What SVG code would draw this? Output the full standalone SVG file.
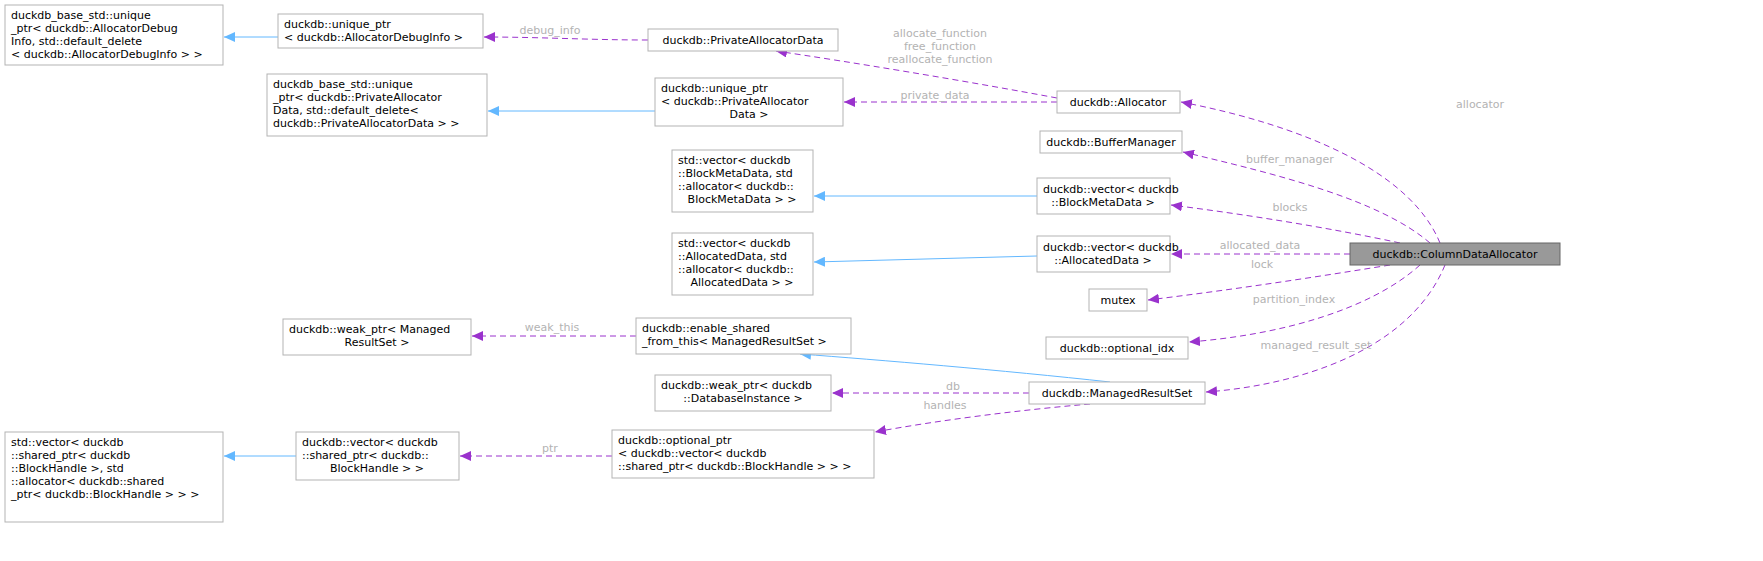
<svg xmlns="http://www.w3.org/2000/svg" width="1763" height="561" viewBox="0 0 1763 561">
<style>
text{font-family:"DejaVu Sans","Liberation Sans",sans-serif;font-size:11px;fill:#000}
.n rect{fill:#fff;stroke:#b3b3b3;stroke-width:1}
.lbl{fill:#b3b3b3;text-anchor:middle}
.c{text-anchor:middle}
.d{fill:none;stroke:#9a32cd;stroke-dasharray:6,4;stroke-width:1}
.b{fill:none;stroke:#63b8ff;stroke-width:1}
</style>
<defs>
<marker id="ap" markerWidth="12" markerHeight="10" refX="11" refY="5" orient="auto" markerUnits="userSpaceOnUse"><path d="M0,0L11,5L0,10z" fill="#9a32cd"/></marker>
<marker id="ab" markerWidth="12" markerHeight="10" refX="11" refY="5" orient="auto" markerUnits="userSpaceOnUse"><path d="M0,0L11,5L0,10z" fill="#63b8ff"/></marker>
</defs>
<rect width="1763" height="561" fill="#fff"/>
<g id="connectors">
<path class="b" marker-end="url(#ab)" d="M278,37L224,37"/>
<path class="d" marker-end="url(#ap)" d="M648,40C590,40 540,37 484,37"/>
<text class="lbl" x="550" y="34">debug_info</text>
<path class="d" marker-end="url(#ap)" d="M1057,98C960,80 850,62 776,51"/>
<text class="lbl" x="940" y="37">allocate_function</text>
<text class="lbl" x="940" y="50">free_function</text>
<text class="lbl" x="940" y="63">reallocate_function</text>
<path class="d" marker-end="url(#ap)" d="M1057,102L844,102"/>
<text class="lbl" x="935" y="99">private_data</text>
<path class="b" marker-end="url(#ab)" d="M655,111L488,111"/>
<path class="d" marker-end="url(#ap)" d="M1440,243C1410,170 1300,125 1181,102"/>
<text class="lbl" x="1480" y="108">allocator</text>
<path class="d" marker-end="url(#ap)" d="M1430,243C1380,200 1280,175 1183,152"/>
<text class="lbl" x="1290" y="163">buffer_manager</text>
<path class="d" marker-end="url(#ap)" d="M1400,243C1330,228 1250,215 1171,205"/>
<text class="lbl" x="1290" y="211">blocks</text>
<path class="b" marker-end="url(#ab)" d="M1037,196L814,196"/>
<path class="d" marker-end="url(#ap)" d="M1350,254L1171,254"/>
<text class="lbl" x="1260" y="249">allocated_data</text>
<path class="b" marker-end="url(#ab)" d="M1037,256L814,262"/>
<path class="d" marker-end="url(#ap)" d="M1390,265C1310,278 1230,290 1148,300"/>
<text class="lbl" x="1262" y="268">lock</text>
<path class="d" marker-end="url(#ap)" d="M1420,265C1370,310 1280,335 1189,342"/>
<text class="lbl" x="1294" y="303">partition_index</text>
<path class="d" marker-end="url(#ap)" d="M1445,265C1410,350 1300,385 1206,392"/>
<text class="lbl" x="1316" y="349">managed_result_set</text>
<path class="d" marker-end="url(#ap)" d="M636,336L472,336"/>
<text class="lbl" x="552" y="331">weak_this</text>
<path class="b" marker-end="url(#ab)" d="M1110,382C1000,370 880,360 800,354"/>
<path class="d" marker-end="url(#ap)" d="M1029,393L832,393"/>
<text class="lbl" x="953" y="390">db</text>
<path class="d" marker-end="url(#ap)" d="M1090,404C1020,410 940,420 875,432"/>
<text class="lbl" x="945" y="409">handles</text>
<path class="d" marker-end="url(#ap)" d="M612,456L460,456"/>
<text class="lbl" x="550" y="452">ptr</text>
<path class="b" marker-end="url(#ab)" d="M296,456L224,456"/>
</g>
<g id="n1" class="n"><rect x="5" y="5" width="218" height="60"/><text x="11" y="19">duckdb_base_std::unique</text><text x="11" y="32">_ptr&lt; duckdb::AllocatorDebug</text><text x="11" y="45">Info, std::default_delete</text><text x="11" y="58">&lt; duckdb::AllocatorDebugInfo &gt; &gt;</text></g>
<g id="n2" class="n"><rect x="278" y="14" width="205" height="34"/><text x="284" y="28">duckdb::unique_ptr</text><text x="284" y="41">&lt; duckdb::AllocatorDebugInfo &gt;</text></g>
<g id="n3" class="n"><rect x="648" y="29" width="190" height="22"/><text class="c" x="743" y="44">duckdb::PrivateAllocatorData</text></g>
<g id="n4" class="n"><rect x="1057" y="91" width="123" height="22"/><text class="c" x="1118" y="106">duckdb::Allocator</text></g>
<g id="n5" class="n"><rect x="267" y="74" width="220" height="62"/><text x="273" y="88">duckdb_base_std::unique</text><text x="273" y="101">_ptr&lt; duckdb::PrivateAllocator</text><text x="273" y="114">Data, std::default_delete&lt;</text><text x="273" y="127"> duckdb::PrivateAllocatorData &gt; &gt;</text></g>
<g id="n6" class="n"><rect x="655" y="78" width="188" height="48"/><text x="661" y="92">duckdb::unique_ptr</text><text x="661" y="105">&lt; duckdb::PrivateAllocator</text><text x="749" y="118" class="c">Data &gt;</text></g>
<g id="n7" class="n"><rect x="1040" y="131" width="142" height="22"/><text class="c" x="1111" y="146">duckdb::BufferManager</text></g>
<g id="n8" class="n"><rect x="672" y="150" width="141" height="62"/><text x="678" y="164">std::vector&lt; duckdb</text><text x="678" y="177">::BlockMetaData, std</text><text x="678" y="190">::allocator&lt; duckdb::</text><text x="742" y="203" class="c">BlockMetaData &gt; &gt;</text></g>
<g id="n9" class="n"><rect x="1037" y="178" width="133" height="36"/><text x="1043" y="193">duckdb::vector&lt; duckdb</text><text x="1103" y="206" class="c">::BlockMetaData &gt;</text></g>
<g id="n10" class="n"><rect x="672" y="233" width="141" height="62"/><text x="678" y="247">std::vector&lt; duckdb</text><text x="678" y="260">::AllocatedData, std</text><text x="678" y="273">::allocator&lt; duckdb::</text><text x="742" y="286" class="c">AllocatedData &gt; &gt;</text></g>
<g id="n11" class="n"><rect x="1037" y="236" width="133" height="36"/><text x="1043" y="251">duckdb::vector&lt; duckdb</text><text x="1103" y="264" class="c">::AllocatedData &gt;</text></g>
<g id="n12"><rect x="1350" y="243" width="210" height="22" fill="#999" stroke="#666"/><text class="c" x="1455" y="258">duckdb::ColumnDataAllocator</text></g>
<g id="n13" class="n"><rect x="1089" y="289" width="58" height="22"/><text class="c" x="1118" y="304">mutex</text></g>
<g id="n14" class="n"><rect x="1046" y="337" width="142" height="22"/><text class="c" x="1117" y="352">duckdb::optional_idx</text></g>
<g id="n15" class="n"><rect x="283" y="319" width="188" height="36"/><text x="289" y="333">duckdb::weak_ptr&lt; Managed</text><text x="377" y="346" class="c">ResultSet &gt;</text></g>
<g id="n16" class="n"><rect x="636" y="318" width="215" height="36"/><text x="642" y="332">duckdb::enable_shared</text><text x="642" y="345">_from_this&lt; ManagedResultSet &gt;</text></g>
<g id="n17" class="n"><rect x="655" y="375" width="176" height="36"/><text x="661" y="389">duckdb::weak_ptr&lt; duckdb</text><text x="743" y="402" class="c">::DatabaseInstance &gt;</text></g>
<g id="n18" class="n"><rect x="1029" y="382" width="176" height="22"/><text class="c" x="1117" y="397">duckdb::ManagedResultSet</text></g>
<g id="n19" class="n"><rect x="5" y="432" width="218" height="90"/><text x="11" y="446">std::vector&lt; duckdb</text><text x="11" y="459">::shared_ptr&lt; duckdb</text><text x="11" y="472">::BlockHandle &gt;, std</text><text x="11" y="485">::allocator&lt; duckdb::shared</text><text x="11" y="498">_ptr&lt; duckdb::BlockHandle &gt; &gt; &gt;</text></g>
<g id="n20" class="n"><rect x="296" y="432" width="163" height="48"/><text x="302" y="446">duckdb::vector&lt; duckdb</text><text x="302" y="459">::shared_ptr&lt; duckdb::</text><text x="377" y="472" class="c">BlockHandle &gt; &gt;</text></g>
<g id="n21" class="n"><rect x="612" y="430" width="262" height="48"/><text x="618" y="444">duckdb::optional_ptr</text><text x="618" y="457">&lt; duckdb::vector&lt; duckdb</text><text x="618" y="470">::shared_ptr&lt; duckdb::BlockHandle &gt; &gt; &gt;</text></g>
</svg>
